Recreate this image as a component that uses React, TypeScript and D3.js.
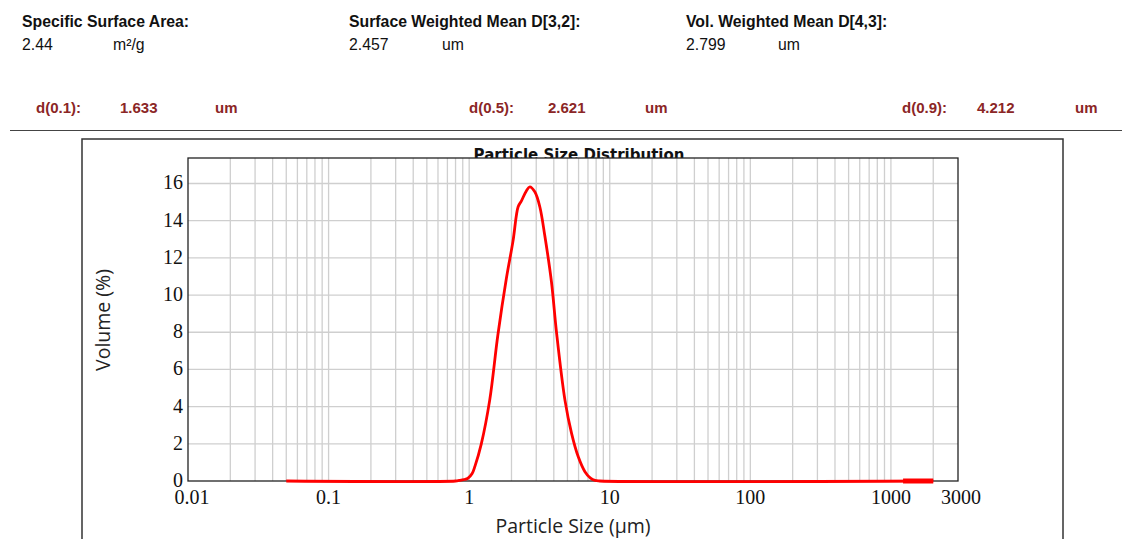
import React from 'react'
import * as d3 from 'd3'

// header values
const headerLabels = ['Specific Surface Area:', 'Surface Weighted Mean D[3,2]:', 'Vol. Weighted Mean D[4,3]:']
const headerValues = ['2.44', '2.457', '2.799']
const headerUnits = ['m²/g', 'um', 'um']
const dLabels = ['d(0.1):', 'd(0.5):', 'd(0.9):']
const dValues = ['1.633', '2.621', '4.212']

// distribution (size in um, volume in %)
const sizes = [0.05, 0.8, 0.85, 0.92, 0.98, 1.05, 1.1, 1.22, 1.4, 1.6, 1.84, 2.05, 2.23, 2.35, 2.55, 2.7, 2.93, 3.18, 3.45, 3.85, 4.18, 4.8, 5.35, 5.97, 6.66, 7.3, 7.85, 8.5, 2000]
const volumes = [0, 0, 0.03, 0.08, 0.15, 0.4, 0.8, 2.0, 4.35, 7.85, 10.9, 12.9, 14.75, 15.05, 15.6, 15.82, 15.55, 14.75, 13.2, 10.7, 8.0, 4.35, 2.56, 1.3, 0.5, 0.15, 0.03, 0, 0]
const tailSizes = [1220, 2000]
const tailVolumes = [0, 0]

const xTickValues = [0.01, 0.1, 1, 10, 100, 1000, 3000]
const yTickValues = [0, 2, 4, 6, 8, 10, 12, 14, 16]

export default function App() {
  const margin = { left: 188, right: 958, top: 158, bottom: 481 }
  const x = d3.scaleLog().domain([0.01, 3000]).range([margin.left, margin.right])
  const y = d3.scaleLinear().domain([0, 17.37]).range([margin.bottom, margin.top])

  const gridX = x.ticks().filter(t => t > 0.0100001 && t < 2999)
  const gridY = yTickValues.filter(t => t > 0)

  const line = d3.line<number>()
    .x((d, i) => x(sizes[i]))
    .y(d => y(d))
    .curve(d3.curveCatmullRom.alpha(0.5))
  const tail = d3.line<number>()
    .x((d, i) => x(tailSizes[i]))
    .y(d => y(d))

  const headX = [22, 349, 686]
  const unitX = [113, 442, 778]
  const dX = [36, 469, 902]
  const dvX = [120, 548, 977]
  const duX = [215, 645, 1075]
  const dred = '#8b2626'

  return (
    <svg width={1122} height={539} style={{ position: 'absolute', left: 0, top: 0, background: '#fff' }}>
      <rect width={1122} height={539} fill="#fff" />
      <g fontFamily="'Liberation Sans', Arial, sans-serif" fontSize={15.8}>
        {headerLabels.map((t, i) => (
          <g key={t}>
            <text x={headX[i]} y={27} fontWeight="bold" fill="#111">{t}</text>
            <text x={headX[i]} y={50} fill="#111">{headerValues[i]}</text>
            <text x={unitX[i]} y={50} fill="#111">{headerUnits[i]}</text>
          </g>
        ))}
      </g>
      <g fontFamily="'Liberation Sans', Arial, sans-serif" fontSize={15}>
        {dLabels.map((t, i) => (
          <g key={t} fontWeight="bold" fill={dred}>
            <text x={dX[i]} y={113}>{t}</text>
            <text x={dvX[i]} y={113}>{dValues[i]}</text>
            <text x={duX[i]} y={113}>um</text>
          </g>
        ))}
      </g>
      <line x1={10} x2={1122} y1={130.5} y2={130.5} stroke="#444" strokeWidth={1.2} />

      {/* outer frame */}
      <rect x={82} y={139} width={981} height={420} fill="#fff" stroke="#333" strokeWidth={1.5} />

      <text x={579} y={160} textAnchor="middle" fontFamily="'DejaVu Sans', Verdana, sans-serif" fontWeight="bold" fontSize={15} fill="#111">Particle Size Distribution</text>

      {/* plot area */}
      <rect x={margin.left} y={margin.top} width={margin.right - margin.left} height={margin.bottom - margin.top} fill="#fff" />
      <g stroke="#cfcfcf" strokeWidth={1.3}>
        {gridX.map(t => <line key={'gx' + t} x1={x(t)} x2={x(t)} y1={margin.top} y2={margin.bottom} />)}
        {gridY.map(t => <line key={'gy' + t} x1={margin.left} x2={margin.right} y1={y(t)} y2={y(t)} />)}
      </g>
      <rect x={margin.left} y={margin.top} width={margin.right - margin.left} height={margin.bottom - margin.top} fill="none" stroke="#222" strokeWidth={1.3} />

      <path d={line(volumes) || ''} fill="none" stroke="#ff0000" strokeWidth={2.8} strokeLinejoin="round" />
      <path d={tail(tailVolumes) || ''} fill="none" stroke="#ff0000" strokeWidth={5} />

      <g fontFamily="'Liberation Serif', 'DejaVu Serif', serif" fontSize={20} fill="#111">
        {yTickValues.map(t => (
          <text key={'yt' + t} x={183} y={y(t)} dy="0.3em" textAnchor="end">{t}</text>
        ))}
        {xTickValues.map(t => (
          <text key={'xt' + t} x={x(t) + (t === 0.01 ? 4 : t === 3000 ? 3 : 0)} y={504} textAnchor="middle">{t}</text>
        ))}
      </g>

      <g fontFamily="'Open Sans', 'Noto Sans', sans-serif" fontSize={19.5} fill="#222">
        <text transform="translate(110,320) rotate(-90)" textAnchor="middle">Volume (%)</text>
        <text x={573} y={533} textAnchor="middle">Particle Size (µm)</text>
      </g>
    </svg>
  )
}
